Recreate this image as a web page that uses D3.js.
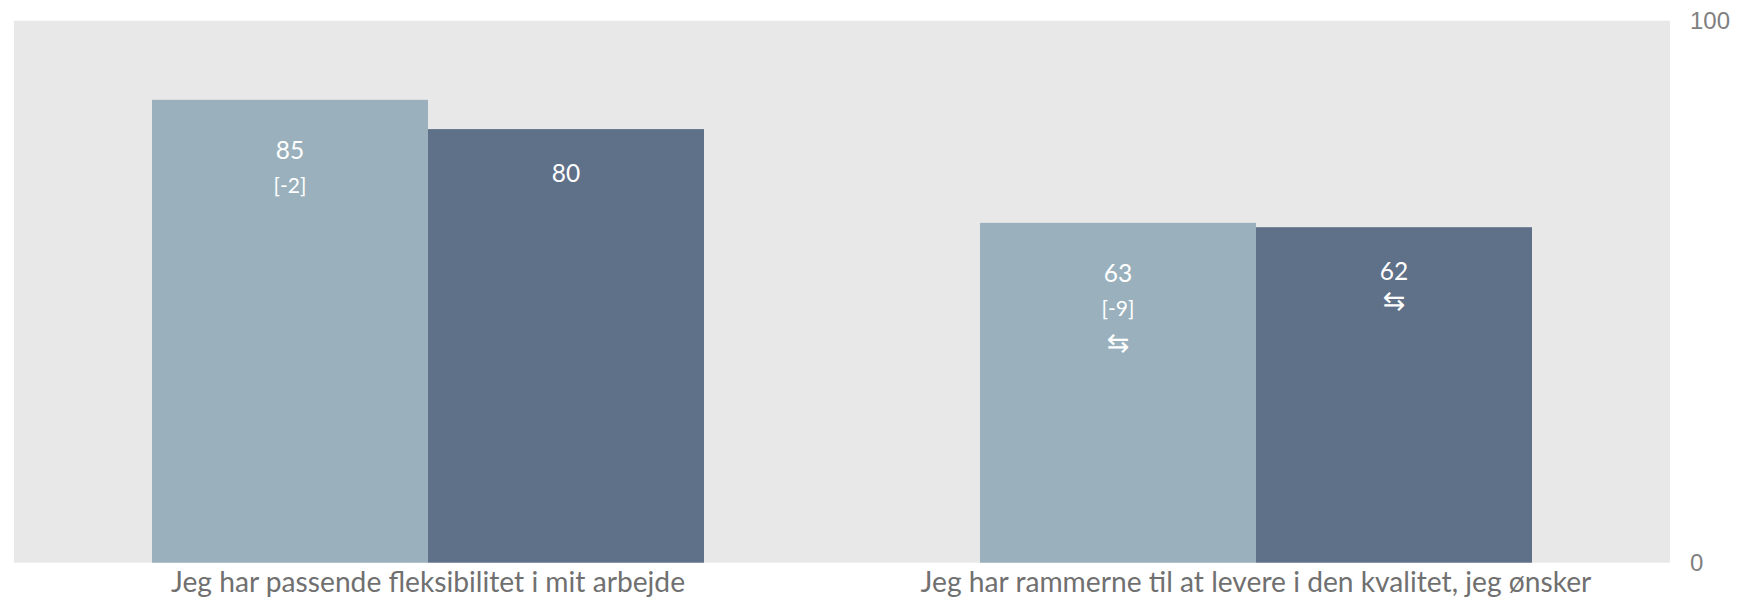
<!DOCTYPE html>
<html><head><meta charset="utf-8">
<script src="https://cdn.jsdelivr.net/npm/d3@7"></script>
<style>body{margin:0;background:#fff}svg{display:block}</style>
</head><body>
<script>
const categories = ["Jeg har passende fleksibilitet i mit arbejde", "Jeg har rammerne til at levere i den kvalitet, jeg ønsker"];
const seriesNames = ["A", "B"];
const valuesA = [85.4, 62.7];
const valuesB = [80.0, 61.9];
const diffA = ["[-2]", "[-9]"];
const diffB = ["", ""];
const arrowsA = [false, true];
const arrowsB = [false, true];
const yTicks = [0, 100];
const colors = ["#9ab1bd", "#5f7089"];

const W = 1749, H = 600;
const m = {top: 20.7, right: 79, bottom: 37.3, left: 14};
const svg = d3.select("body").append("svg").attr("width", W).attr("height", H);

const x = d3.scaleBand().domain(categories).range([m.left, W - m.right]).paddingInner(1/3).paddingOuter(1/6);
const xs = d3.scaleBand().domain(seriesNames).range([0, x.bandwidth()]);
const y = d3.scaleLinear().domain([0, 100]).range([H - m.bottom, m.top]);

svg.append("rect").attr("x", m.left).attr("y", m.top).attr("width", W - m.right - m.left).attr("height", H - m.bottom - m.top).attr("fill", "#e8e8e8");

const data = [];
categories.forEach((c, i) => {
  data.push({c, s: "A", v: valuesA[i], d: diffA[i], a: arrowsA[i], col: colors[0], off: 59});
  data.push({c, s: "B", v: valuesB[i], d: diffB[i], a: arrowsB[i], col: colors[1], off: 53});
});

svg.selectAll("rect.bar").data(data).join("rect").attr("class", "bar")
  .attr("x", d => x(d.c) + xs(d.s)).attr("width", xs.bandwidth())
  .attr("y", d => y(d.v)).attr("height", d => y(0) - y(d.v)).attr("fill", d => d.col);

const lab = svg.selectAll("g.lab").data(data).join("g").attr("class", "lab")
  .attr("transform", d => `translate(${x(d.c) + xs(d.s) + xs.bandwidth() / 2},${y(d.v) + d.off})`)
  .attr("fill", "#fff").attr("text-anchor", "middle").style("font-family", "Lato, 'Noto Sans', sans-serif");
lab.append("text").attr("font-size", 24.5).text(d => d3.format(".0f")(d.v));
lab.each(function(d) {
  const g = d3.select(this);
  let yy = 0;
  if (d.d) { yy += 34; g.append("text").attr("y", yy).attr("font-size", 21).text(d.d); }
  if (d.a) { yy += d.d ? 36 : 30; g.append("text").attr("y", yy).attr("font-size", 27).style("font-family", "'DejaVu Sans', sans-serif").text("\u21C6"); }
});

const yAxis = d3.axisRight(y).tickValues(yTicks).tickSize(0).tickPadding(20);
const ya = svg.append("g").attr("transform", `translate(${W - m.right},0)`).call(yAxis);
ya.select(".domain").remove();
ya.selectAll("text").attr("fill", "#808080").style("font-family", "'Liberation Sans', Arial, sans-serif").attr("font-size", 24);

const xAxis = d3.axisBottom(x).tickSize(0).tickPadding(9);
const xa = svg.append("g").attr("transform", `translate(0,${H - m.bottom})`).call(xAxis);
xa.select(".domain").remove();
xa.selectAll("text").attr("fill", "#707070").style("font-family", "Lato, 'Noto Sans', sans-serif").attr("font-size", 28.2);
</script>
</body></html>
